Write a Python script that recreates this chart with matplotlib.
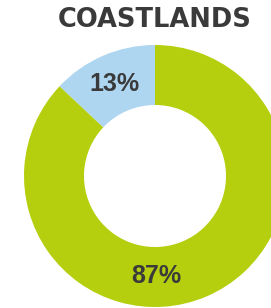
import numpy as np
import matplotlib.pyplot as plt

title = "COASTLANDS"
labels = ["13%", "87%"]
values = [13, 87]
colors = ["#aed6f1", "#b5cf0f"]

W, H = 271, 308
fig = plt.figure(figsize=(W / 100, H / 100), dpi=100)
ax = fig.add_axes([0, 0, 1, 1])
ax.set_xlim(0, W)
ax.set_ylim(0, H)
ax.set_aspect('equal')
ax.axis('off')

cx, cy = 155, H - 176
r_out, r_in = 131, 71
wedges, _ = ax.pie(values, colors=colors, startangle=90, counterclock=True,
                   radius=r_out, center=(cx, cy),
                   wedgeprops=dict(width=r_out - r_in, linewidth=0))
ax.set_xlim(0, W)
ax.set_ylim(0, H)

r_mid = (r_out + r_in) / 2
# small slice label at its mid angle, big slice label at the bottom
w = wedges[0]
ang = np.deg2rad((w.theta1 + w.theta2) / 2)
ax.text(cx + r_mid * np.cos(ang), cy + r_mid * np.sin(ang) - 1, labels[0],
        ha='center', va='center', fontsize=18, fontweight='bold',
        color='#3a3a3a', family='Liberation Sans')
ax.text(cx + 1, cy - r_mid + 1, labels[1], ha='center', va='center', fontsize=18,
        fontweight='bold', color='#3a3a3a', family='Liberation Sans')

ax.text(155, H - 20, title, ha='center', va='center', fontsize=18.5,
        fontweight='bold', color='#3a3a3a', family='DejaVu Sans')

fig.savefig("out.png", dpi=100)
